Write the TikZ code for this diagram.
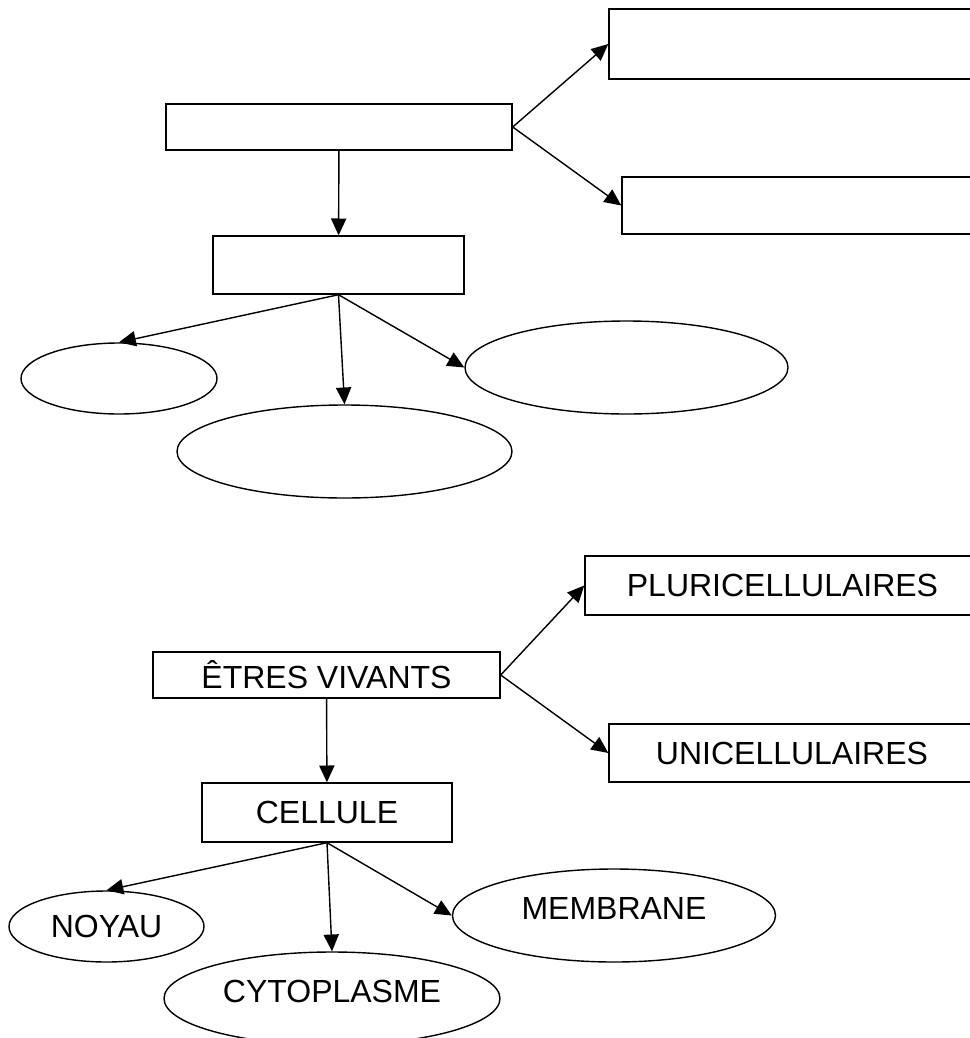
\documentclass[tikz,border=0pt]{standalone}
\usepackage{fontspec}
\setmainfont{Liberation Sans}
\usepackage{tikz}
\usetikzlibrary{arrows.meta,shapes.geometric}

\begin{document}
\begin{tikzpicture}[
  box/.style={rectangle,draw,line width=1pt,inner sep=0pt,
    align=center,font=\fontsize{22.76}{27}\selectfont},
  oval/.style={ellipse,draw,line width=1pt,inner sep=0pt,
    align=center,font=\fontsize{22.76}{27}\selectfont},
  lift/.style={text depth=0.35cm},
  arr/.style={-{Triangle[length=0.42cm,width=0.38cm]},line width=1pt}]

  \useasboundingbox (0,0) rectangle (24.25,-25.95);

  % empty diagram
  \node[box,minimum width=8.65cm,minimum height=1.15cm] (etres0) at (8.475,-3.175) {};
  \node[box,minimum width=9.525cm,minimum height=1.75cm] (pluri0) at (19.9875,-1.1) {};
  \node[box,minimum width=9.2cm,minimum height=1.425cm] (uni0) at (20.15,-5.1375) {};
  \node[box,minimum width=6.275cm,minimum height=1.45cm] (cell0) at (8.4625,-6.625) {};
  \node[oval,minimum width=4.9cm,minimum height=1.775cm] (noyau0) at (2.975,-9.4625) {};
  \node[oval,minimum width=8.375cm,minimum height=2.325cm] (cyto0) at (8.6125,-11.2875) {};
  \node[oval,minimum width=8.075cm,minimum height=2.325cm] (memb0) at (15.6625,-9.1875) {};

  \draw[arr] (etres0.east) -- (pluri0.west);
  \draw[arr] (etres0.east) -- (uni0.west);
  \draw[arr] (etres0) -- (cell0);
  \draw[arr] (cell0.south) -- (noyau0.north);
  \draw[arr] (cell0.south) -- (cyto0.north);
  \draw[arr] (cell0.south) -- (memb0.west);

  % filled diagram
  \node[box,minimum width=8.675cm,minimum height=1.15cm] (etres) at (8.1625,-16.875) {ÊTRES VIVANTS};
  \node[box,minimum width=9.875cm,minimum height=1.475cm] (pluri) at (19.5625,-14.6375) {PLURICELLULAIRES};
  \node[box,minimum width=9.15cm,minimum height=1.45cm] (uni) at (19.8,-18.825) {UNICELLULAIRES};
  \node[box,minimum width=6.25cm,minimum height=1.475cm] (cell) at (8.175,-20.3125) {CELLULE};
  \node[oval,minimum width=4.875cm,minimum height=1.775cm] (noyau) at (2.6625,-23.1625) {NOYAU};
  \node[oval,lift,minimum width=8.4cm,minimum height=2.325cm] (cyto) at (8.3,-24.9625) {CYTOPLASME};
  \node[oval,lift,minimum width=8.075cm,minimum height=2.325cm] (memb) at (15.35,-22.8875) {MEMBRANE};

  \draw[arr] (etres.east) -- (pluri.west);
  \draw[arr] (etres.east) -- (uni.west);
  \draw[arr] (etres) -- (cell);
  \draw[arr] (cell.south) -- (noyau.north);
  \draw[arr] (cell.south) -- (cyto.north);
  \draw[arr] (cell.south) -- (memb.west);
\end{tikzpicture}
\end{document}
